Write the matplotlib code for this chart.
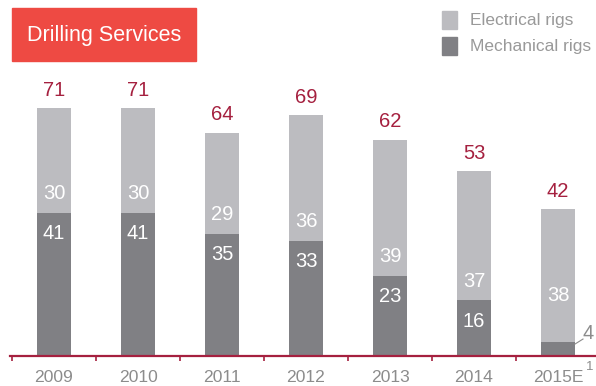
import matplotlib.pyplot as plt
import matplotlib.patches as patches
import numpy as np

years = ['2009', '2010', '2011', '2012', '2013', '2014', '2015E']
mechanical = [41, 41, 35, 33, 23, 16, 4]
electrical = [30, 30, 29, 36, 39, 37, 38]

elec_color = '#bcbcc0'
mech_color = '#808084'
red = '#a5203f'
label_gray = '#8c8c8c'

plt.rcParams['font.family'] = ['Liberation Sans', 'DejaVu Sans']

W, H = 596, 386
fig = plt.figure(figsize=(W / 100, H / 100), dpi=100)

# axes placed in pixels: baseline at y=356, 84 px per category, 3.49 px per rig
px_unit = 3.49
ymax = 80
ax = fig.add_axes([10 / W, 30 / H, 586 / W, ymax * px_unit / H])
ax.set_xlim(-0.5 - 2 / 84, (596 - 54) / 84)
ax.set_ylim(0, ymax)

x = np.arange(len(years))
totals = [m + e for m, e in zip(mechanical, electrical)]
bw = 34 / 84

ax.bar(x, mechanical, width=bw, color=mech_color, zorder=2)
ax.bar(x, electrical, width=bw, bottom=mechanical, color=elec_color, zorder=2)

u = 1 / px_unit  # one pixel in data units
for i in x:
    m, e, t = mechanical[i], electrical[i], totals[i]
    ax.text(i, t + 18 * u, str(t), ha='center', va='center', fontsize=14.5, color=red)
    if m >= 10:
        ax.text(i, m + 19 * u, str(e), ha='center', va='center', fontsize=14.5, color='white')
        ax.text(i, m - 21 * u, str(m), ha='center', va='center', fontsize=14.5, color='white')
    else:
        # small segment: label outside with a leader line
        ax.text(i, m + 47 * u, str(e), ha='center', va='center', fontsize=14.5, color='white')
        x0 = i + bw / 2
        ax.plot([x0, x0 + 8 / 84], [m - 2 * u, m + 3 * u], color=label_gray, lw=0.8,
                clip_on=False)
        ax.text(x0 + 13 / 84, m + 9 * u, str(m), ha='center', va='center',
                fontsize=14.5, color=label_gray)

for s in ['top', 'right', 'left']:
    ax.spines[s].set_visible(False)
ax.spines['bottom'].set_color(red)
ax.spines['bottom'].set_linewidth(1.6)
ax.set_yticks([])

# year labels placed by hand so they sit inside the canvas
ax.set_xticks(x)
ax.set_xticklabels([])
ax.tick_params(axis='x', which='major', length=0)
for i, yr in enumerate(years):
    ax.text(i, -21 * u, yr, ha='center', va='center', fontsize=12.6, color=label_gray,
            clip_on=False)
ax.set_xticks(x - 0.5, minor=True)
ax.tick_params(axis='x', which='minor', length=3.5, width=1.2, color=red, direction='out')

# footnote mark on the estimate year
ax.text(x[-1] + 32 / 84, -11 * u, '1', ha='center', va='center', fontsize=9.5,
        color=label_gray, clip_on=False)

# title box
fig.patches.append(patches.Rectangle((12 / W, 1 - 61 / H), 184 / W, 53 / H,
                                     transform=fig.transFigure, color='#ee4a43', zorder=0))
fig.text(104 / W, 1 - 36 / H, 'Drilling Services', ha='center', va='center',
         fontsize=15.5, color='white')

# legend
for k, (lab, col) in enumerate([('Electrical rigs', elec_color), ('Mechanical rigs', mech_color)]):
    yc = 20 + 26 * k
    fig.patches.append(patches.Rectangle((442 / W, 1 - (yc + 8.5) / H), 15 / W, 17 / H,
                                         transform=fig.transFigure, color=col))
    fig.text(470 / W, 1 - (yc + 0.5) / H, lab, ha='left', va='center', fontsize=12.5,
             color='#999999')

fig.savefig('out.png', dpi=100)
